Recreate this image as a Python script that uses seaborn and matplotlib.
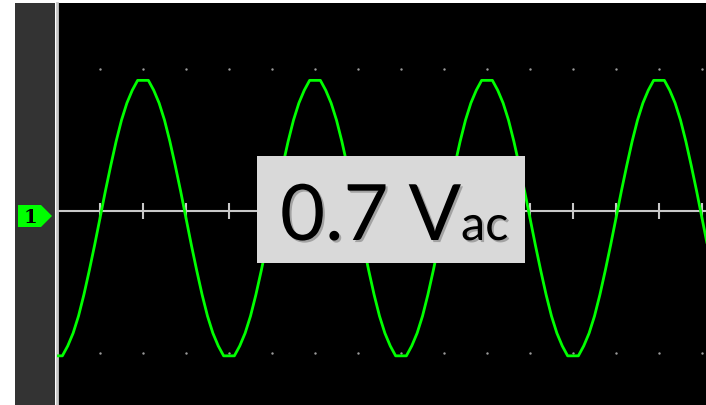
import numpy as np
import pandas as pd
import matplotlib.pyplot as plt
import seaborn as sns
from matplotlib.patches import Rectangle, Polygon
from matplotlib import patheffects

# scope trace, one sample every 1/8 division (volts, 1 V/div)
sample_step = 0.125
volts = [
    -1.02, -1.02, -0.95, -0.86, -0.74, -0.59, -0.42, -0.24,
    -0.05, 0.14, 0.32, 0.49, 0.64, 0.76, 0.85, 0.92,
    0.92, 0.92, 0.85, 0.76, 0.64, 0.49, 0.32, 0.14,
    -0.05, -0.24, -0.42, -0.59, -0.74, -0.86, -0.95, -1.02,
    -1.02, -1.02, -0.95, -0.86, -0.74, -0.59, -0.42, -0.24,
    -0.05, 0.14, 0.32, 0.49, 0.64, 0.76, 0.85, 0.92,
    0.92, 0.92, 0.85, 0.76, 0.64, 0.49, 0.32, 0.14,
    -0.05, -0.24, -0.42, -0.59, -0.74, -0.86, -0.95, -1.02,
    -1.02, -1.02, -0.95, -0.86, -0.74, -0.59, -0.42, -0.24,
    -0.05, 0.14, 0.32, 0.49, 0.64, 0.76, 0.85, 0.92,
    0.92, 0.92, 0.85, 0.76, 0.64, 0.49, 0.32, 0.14,
    -0.05, -0.24, -0.42, -0.59, -0.74, -0.86, -0.95, -1.02,
    -1.02, -1.02, -0.95, -0.86, -0.74, -0.59, -0.42, -0.24,
    -0.05, 0.14, 0.32, 0.49, 0.64, 0.76, 0.85, 0.92,
    0.92, 0.92, 0.85, 0.76, 0.64, 0.49, 0.32, 0.14,
    -0.05, -0.24,
]
grid_divs = [1, 2, 3, 4, 5, 6, 7, 8, 9, 10, 11, 12, 13, 14, 15]
grid_levels = [-1.0, 1.0]
major_volts = [-1.0, 0.0, 1.0]
minor_volts = [-1.25, -0.75, -0.5, -0.25, 0.25, 0.5, 0.75, 1.25]
reading_main = "0.7 V"
reading_sub = "ac"
channel_label = "1"

df = pd.DataFrame({"t": np.arange(len(volts)) * sample_step, "v": volts})

sns.set_style("dark")
W, H = 706, 406
fig = plt.figure(figsize=(W / 100, H / 100), dpi=100, facecolor="white")


def px(x, y):
    # pixel position (from top-left) -> figure fraction
    return (x / W, (H - y) / H)


# dark side panel
fig.patches.append(Rectangle(px(15, H), 40 / W, 402 / H, transform=fig.transFigure,
                             facecolor="#333333", edgecolor="none", zorder=0))

ax = fig.add_axes([57 / W, 0, 649 / W, 402 / H])
ax.set_facecolor("black")
ax.set_xlim(0, 649 / 43)
ax.set_ylim(-194 / 142, 208 / 142)
for s in ["top", "right", "bottom"]:
    ax.spines[s].set_visible(False)
ax.spines["left"].set_color("#c8c8c8")
ax.spines["left"].set_linewidth(2)
ax.grid(False)

ax.set_xticks([])
ax.set_yticks(major_volts)
ax.set_yticks(minor_volts, minor=True)
ax.tick_params(axis="y", which="major", direction="in", length=7, width=1.3,
               color="#c8c8c8", labelleft=False)
ax.tick_params(axis="y", which="minor", direction="in", length=4.5, width=1.3,
               color="#c8c8c8")

# center line with division ticks
ax.axhline(0, color="#c8c8c8", lw=1.5, zorder=1)
ax.plot(grid_divs, [0] * len(grid_divs), ls="none", marker="|", markersize=12,
        markeredgewidth=1.5, color="#c8c8c8", zorder=1)

# graticule dots
gx = [d for lvl in grid_levels for d in grid_divs]
gy = [lvl for lvl in grid_levels for d in grid_divs]
ax.scatter(gx, gy, s=3, color="#9a9a9a", zorder=1, linewidths=0)

sns.lineplot(data=df, x="t", y="v", ax=ax, color="#00ff00", lw=2, zorder=3)
ax.set_xlabel("")
ax.set_ylabel("")

# channel marker
fig.patches.append(Polygon([px(18, 206), px(41, 206), px(52, 217), px(41, 228), px(18, 228)],
                           closed=True, transform=fig.transFigure,
                           facecolor="#00ff00", edgecolor="none", zorder=2))
fig.text(*px(30, 218), channel_label, family="DejaVu Serif", fontsize=14,
         fontweight="bold", color="black", ha="center", va="center", zorder=3)

# reading box
fig.patches.append(Rectangle(px(257, 264), 268 / W, 107 / H, transform=fig.transFigure,
                             facecolor="#d9d9d9", edgecolor="none", zorder=4))
shadow = [patheffects.withSimplePatchShadow(offset=(1.5, -1.5), alpha=0.25)]
fig.text(*px(280, 241), reading_main, family="Lato", fontsize=56, color="black",
         ha="left", va="baseline", zorder=5, path_effects=shadow)
fig.text(*px(461, 241), reading_sub, family="Lato", fontsize=35, color="black",
         ha="left", va="baseline", zorder=5, path_effects=shadow)

fig.savefig("out.png", dpi=100, facecolor="white")
